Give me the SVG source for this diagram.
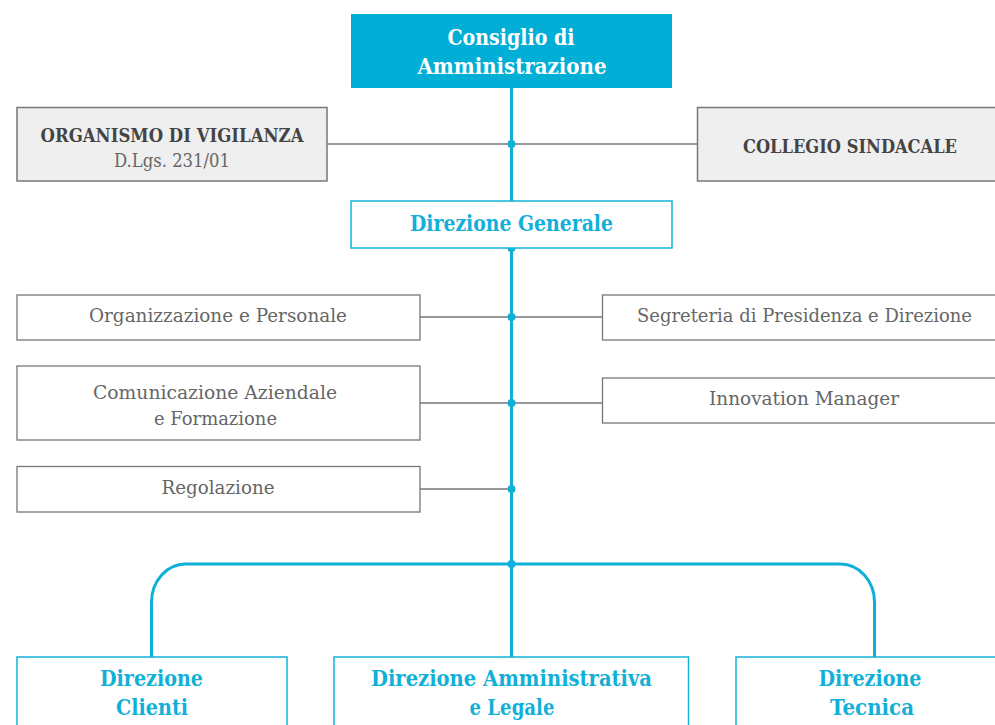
<svg xmlns="http://www.w3.org/2000/svg" width="995" height="725" viewBox="0 0 995 725">
<style>
text{font-family:"DejaVu Serif","Liberation Serif",serif;text-anchor:middle}
.gbox{fill:#efefef;stroke:#777;stroke-width:1.5}
.wbox{fill:#fff;stroke:#777;stroke-width:1.3}
.bbox{fill:#fff;stroke:#12b1d9;stroke-width:1.5}
.top{fill:#00aed6}
.tw{fill:#fff;font-weight:bold;font-size:21.5px}
.tb{fill:#11b0d8;font-weight:bold;font-size:21.5px}
.tg{fill:#444;font-weight:bold;font-size:19px}
.tl{fill:#666;font-size:19px}
.gl{stroke:#777;stroke-width:1.5;fill:none}
.bl{stroke:#0fb0d7;stroke-width:3;fill:none}
.dot{fill:#0fb0d7}
</style>
<g id="connectors">
<line class="gl" x1="327" y1="144" x2="697" y2="144"/>
<line class="gl" x1="420" y1="317" x2="602" y2="317"/>
<line class="gl" x1="420" y1="403" x2="602" y2="403"/>
<line class="gl" x1="420" y1="489" x2="511" y2="489"/>
<line class="bl" x1="511.5" y1="88" x2="511.5" y2="657"/>
<path class="bl" d="M151.5 657 V602 A34 38 0 0 1 185.5 564 H840.5 A34 38 0 0 1 874.5 602 V657"/>
<circle class="dot" cx="511.5" cy="144" r="4"/>
<circle class="dot" cx="511.5" cy="248" r="4"/>
<circle class="dot" cx="511.5" cy="317" r="4"/>
<circle class="dot" cx="511.5" cy="403" r="4"/>
<circle class="dot" cx="511.5" cy="489" r="4"/>
<circle class="dot" cx="511.5" cy="564" r="4"/>
</g>
<g id="cda">
<rect class="top" x="351" y="14" width="321" height="74"/>
<text class="tw" x="511" y="45" textLength="127" lengthAdjust="spacingAndGlyphs">Consiglio di</text>
<text class="tw" x="512" y="74" textLength="189" lengthAdjust="spacingAndGlyphs">Amministrazione</text>
</g>
<g id="odv">
<rect class="gbox" x="17" y="107.5" width="310" height="73.5"/>
<text class="tg" x="172" y="141.5" textLength="263" lengthAdjust="spacingAndGlyphs">ORGANISMO DI VIGILANZA</text>
<text class="tl" x="172" y="167" textLength="116" lengthAdjust="spacingAndGlyphs">D.Lgs. 231/01</text>
</g>
<g id="collegio">
<rect class="gbox" x="697.5" y="107.5" width="310" height="73.5"/>
<text class="tg" x="850" y="153" textLength="214" lengthAdjust="spacingAndGlyphs">COLLEGIO SINDACALE</text>
</g>
<g id="dg">
<rect class="bbox" x="351" y="201" width="321" height="47"/>
<text class="tb" x="511.5" y="231" textLength="203" lengthAdjust="spacingAndGlyphs">Direzione Generale</text>
</g>
<g id="orgpers">
<rect class="wbox" x="17" y="295" width="403" height="45"/>
<text class="tl" x="218" y="321.5" textLength="258" lengthAdjust="spacingAndGlyphs">Organizzazione e Personale</text>
</g>
<g id="segreteria">
<rect class="wbox" x="602.5" y="295" width="410" height="45"/>
<text class="tl" x="804.5" y="322" textLength="335" lengthAdjust="spacingAndGlyphs">Segreteria di Presidenza e Direzione</text>
</g>
<g id="comunicazione">
<rect class="wbox" x="17" y="366" width="403" height="74"/>
<text class="tl" x="215" y="398.5" textLength="244" lengthAdjust="spacingAndGlyphs">Comunicazione Aziendale</text>
<text class="tl" x="215.5" y="425" textLength="123" lengthAdjust="spacingAndGlyphs">e Formazione</text>
</g>
<g id="innovation">
<rect class="wbox" x="602.5" y="378" width="410" height="45"/>
<text class="tl" x="804" y="404.5" textLength="190" lengthAdjust="spacingAndGlyphs">Innovation Manager</text>
</g>
<g id="regolazione">
<rect class="wbox" x="17" y="466.5" width="403" height="45.5"/>
<text class="tl" x="218" y="493.5" textLength="113" lengthAdjust="spacingAndGlyphs">Regolazione</text>
</g>
<g id="clienti">
<rect class="bbox" x="17" y="657" width="270" height="80"/>
<text class="tb" x="151.5" y="685.5" textLength="103" lengthAdjust="spacingAndGlyphs">Direzione</text>
<text class="tb" x="152" y="714.5" textLength="72" lengthAdjust="spacingAndGlyphs">Clienti</text>
</g>
<g id="amministrativa">
<rect class="bbox" x="334" y="657" width="354.5" height="80"/>
<text class="tb" x="511.5" y="685.5" textLength="281" lengthAdjust="spacingAndGlyphs">Direzione Amministrativa</text>
<text class="tb" x="512" y="714.5" textLength="85" lengthAdjust="spacingAndGlyphs">e Legale</text>
</g>
<g id="tecnica">
<rect class="bbox" x="736" y="657" width="280" height="80"/>
<text class="tb" x="870" y="685.5" textLength="103" lengthAdjust="spacingAndGlyphs">Direzione</text>
<text class="tb" x="872" y="714.5" textLength="84" lengthAdjust="spacingAndGlyphs">Tecnica</text>
</g>
</svg>
